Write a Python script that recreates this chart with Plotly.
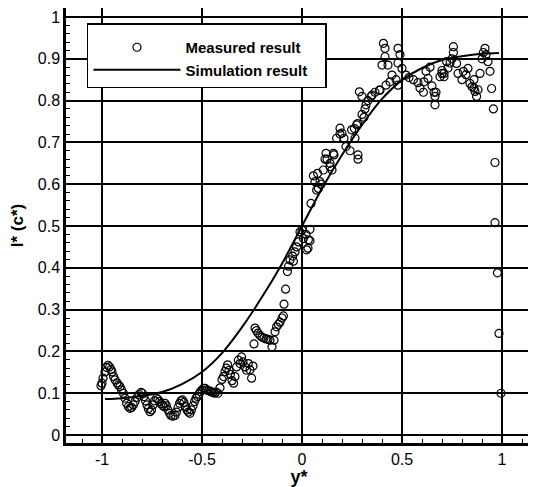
import plotly.graph_objects as go

# Measured result (y*, l*)
meas_x = [-1.005, -1.0, -0.995, -0.985, -0.978, -0.97, -0.962, -0.955, -0.95, -0.942,
          -0.935, -0.925, -0.918, -0.91, -0.902, -0.893, -0.885, -0.877, -0.868, -0.86,
          -0.852, -0.843, -0.835, -0.825, -0.815, -0.805, -0.798, -0.79, -0.782, -0.775,
          -0.768, -0.76, -0.752, -0.745, -0.737, -0.727, -0.72, -0.712, -0.705, -0.697,
          -0.69, -0.685, -0.678, -0.67, -0.662, -0.655, -0.645, -0.635, -0.628, -0.62,
          -0.612, -0.605, -0.598, -0.59, -0.583, -0.575, -0.568, -0.56, -0.553, -0.545,
          -0.537, -0.53, -0.522, -0.515, -0.508, -0.5, -0.492, -0.485, -0.477, -0.468,
          -0.46, -0.452, -0.445, -0.437, -0.43, -0.42, -0.41, -0.4, -0.392, -0.385,
          -0.378, -0.372, -0.365, -0.358, -0.35, -0.342, -0.335, -0.327, -0.318, -0.31,
          -0.302, -0.295, -0.285, -0.277, -0.268, -0.26, -0.252, -0.245, -0.24, -0.235,
          -0.228, -0.22, -0.21, -0.2, -0.19, -0.18, -0.17, -0.16, -0.15, -0.14,
          -0.135, -0.127, -0.118, -0.11, -0.1, -0.093, -0.09, -0.082, -0.073, -0.067,
          -0.06, -0.047, -0.043, -0.035, -0.027, -0.018, -0.01, 0.0, 0.007, 0.02,
          0.023, 0.03, 0.032, 0.04, 0.04, 0.045, 0.057, 0.065, 0.073, 0.078,
          0.082, 0.09, 0.095, 0.107, 0.115, 0.12, 0.125, 0.14, 0.14, 0.15,
          0.157, 0.16, 0.173, 0.19, 0.19, 0.2, 0.21, 0.22, 0.24, 0.248,
          0.262, 0.265, 0.273, 0.278, 0.28, 0.28, 0.287, 0.3, 0.3, 0.31,
          0.315, 0.32, 0.33, 0.345, 0.35, 0.365, 0.387, 0.39, 0.4, 0.407,
          0.415, 0.415, 0.42, 0.43, 0.44, 0.45, 0.47, 0.48, 0.48, 0.48,
          0.49, 0.5, 0.52, 0.535, 0.557, 0.58, 0.59, 0.607, 0.61, 0.62,
          0.63, 0.64, 0.65, 0.66, 0.665, 0.665, 0.67, 0.69, 0.7, 0.7,
          0.71, 0.71, 0.723, 0.73, 0.74, 0.75, 0.757, 0.757, 0.773, 0.78,
          0.8, 0.807, 0.82, 0.83, 0.84, 0.85, 0.86, 0.86, 0.865, 0.873,
          0.88, 0.89, 0.9, 0.907, 0.915, 0.92, 0.93, 0.94, 0.948, 0.957,
          0.965, 0.965, 0.977, 0.985, 0.995]
meas_y = [0.118, 0.124, 0.136, 0.151, 0.162, 0.167, 0.163, 0.157, 0.151, 0.14,
          0.132, 0.125, 0.12, 0.116, 0.108, 0.1, 0.088, 0.076, 0.068, 0.064,
          0.066, 0.072, 0.08, 0.09, 0.097, 0.102, 0.1, 0.092, 0.082, 0.072,
          0.063, 0.056, 0.06, 0.072, 0.082, 0.088, 0.085, 0.08, 0.075, 0.071,
          0.068, 0.076, 0.07, 0.06, 0.052, 0.047, 0.045, 0.047, 0.055, 0.066,
          0.076, 0.082, 0.084, 0.078, 0.068, 0.06, 0.055, 0.052, 0.06, 0.07,
          0.08, 0.088, 0.092, 0.098, 0.104, 0.108, 0.112, 0.112, 0.108, 0.106,
          0.105, 0.103, 0.102, 0.1, 0.103, 0.1, 0.113, 0.133, 0.14, 0.152,
          0.16, 0.168, 0.155, 0.145, 0.13, 0.124, 0.14, 0.163, 0.179, 0.171,
          0.187, 0.175, 0.163, 0.155, 0.171, 0.156, 0.136, 0.165, 0.218, 0.256,
          0.25, 0.244, 0.238, 0.234, 0.232, 0.23, 0.229, 0.227, 0.211, 0.227,
          0.247, 0.259, 0.265, 0.27, 0.28, 0.285, 0.313, 0.349, 0.391, 0.404,
          0.419, 0.428, 0.416, 0.438, 0.45, 0.462, 0.486, 0.49, 0.47, 0.48,
          0.443, 0.447, 0.467, 0.492, 0.465, 0.554, 0.62, 0.606, 0.586, 0.626,
          0.59, 0.606, 0.6, 0.634, 0.66, 0.674, 0.66, 0.65, 0.642, 0.634,
          0.674, 0.67, 0.71, 0.734, 0.72, 0.722, 0.71, 0.69, 0.68, 0.73,
          0.733, 0.71, 0.742, 0.745, 0.67, 0.66, 0.821, 0.767, 0.81, 0.76,
          0.78, 0.79, 0.80, 0.81, 0.813, 0.82, 0.825, 0.825, 0.885, 0.937,
          0.925, 0.905, 0.837, 0.885, 0.845, 0.861, 0.85, 0.925, 0.89, 0.837,
          0.91, 0.877, 0.861, 0.855, 0.85, 0.843, 0.83, 0.82, 0.845, 0.87,
          0.853, 0.88, 0.835, 0.82, 0.81, 0.79, 0.82, 0.857, 0.872, 0.865,
          0.865, 0.857, 0.893, 0.878, 0.89, 0.9, 0.915, 0.929, 0.889, 0.865,
          0.85, 0.87, 0.862, 0.877, 0.841, 0.833, 0.83, 0.85, 0.822, 0.81,
          0.826, 0.865, 0.9, 0.915, 0.925, 0.91, 0.893, 0.87, 0.829, 0.78,
          0.652, 0.508, 0.388, 0.243, 0.1]

# Simulation result
sim_x = [-0.985, -0.9, -0.8, -0.7, -0.6, -0.5, -0.4, -0.3, -0.2, -0.1, 0.0,
         0.1, 0.2, 0.3, 0.4, 0.5, 0.6, 0.7, 0.8, 0.9, 0.985]
sim_y = [0.086, 0.088, 0.094, 0.103, 0.122, 0.151, 0.196, 0.258, 0.33, 0.41, 0.5,
         0.59, 0.67, 0.742, 0.804, 0.849, 0.878, 0.897, 0.906, 0.912, 0.914]

x_ticks = [-1, -0.5, 0, 0.5, 1]
y_ticks = [0, 0.1, 0.2, 0.3, 0.4, 0.5, 0.6, 0.7, 0.8, 0.9, 1]

pad = "\u00a0\u00a0\u00a0"

fig = go.Figure()
fig.add_trace(go.Scatter(
    x=meas_x, y=meas_y, mode="markers", name="Measured result" + pad,
    marker=dict(symbol="circle-open", size=8, color="black", line=dict(width=1.2, color="black")),
))
fig.add_trace(go.Scatter(
    x=sim_x, y=sim_y, mode="lines", name="Simulation result" + pad,
    line=dict(color="black", width=2, shape="spline", smoothing=1.0),
))

fig.update_layout(
    width=528, height=479,
    margin=dict(l=58, r=4, t=0, b=44, autoexpand=False),
    paper_bgcolor="white", plot_bgcolor="white",
    font=dict(family="Liberation Sans, Arial, sans-serif", color="black"),
    showlegend=True,
    legend=dict(
        x=0.045, y=0.9655, xanchor="left", yanchor="top",
        bgcolor="white", bordercolor="black", borderwidth=1.5,
        font=dict(size=15, weight="bold", color="black"),
        itemwidth=87, tracegroupgap=0,
        title=dict(text="\u00a0", font=dict(size=5)),
    ),
)
fig.update_xaxes(
    range=[-1.18, 1.15], tickvals=x_ticks, ticktext=[str(v) for v in x_ticks],
    automargin=False,
    showgrid=True, gridcolor="black", gridwidth=1.5, zeroline=False,
    showline=True, linecolor="black", linewidth=2.5, mirror=True,
    ticks="inside", ticklen=8, tickwidth=2, tickcolor="black",
    minor=dict(ticks="inside", dtick=0.1, ticklen=4, tickwidth=1, tickcolor="black", showgrid=False),
    tickfont=dict(size=16, color="black"),
    title=dict(text="y*", font=dict(size=18, weight="bold", color="black"), standoff=0),
)
fig.update_yaxes(
    range=[-0.019, 1.0215], tickvals=y_ticks, ticktext=[("%g" % v) for v in y_ticks],
    automargin=False,
    showgrid=True, gridcolor="black", gridwidth=1.5, zeroline=False,
    showline=True, linecolor="black", linewidth=2.5, mirror=True,
    ticks="inside", ticklen=8, tickwidth=2, tickcolor="black",
    minor=dict(ticks="inside", dtick=0.02, ticklen=4, tickwidth=1, tickcolor="black", showgrid=False),
    tickfont=dict(size=16, color="black"),
    title=dict(text="l* (c*)", font=dict(size=17, weight="bold", color="black"), standoff=17),
)

fig.write_html("out.html")
